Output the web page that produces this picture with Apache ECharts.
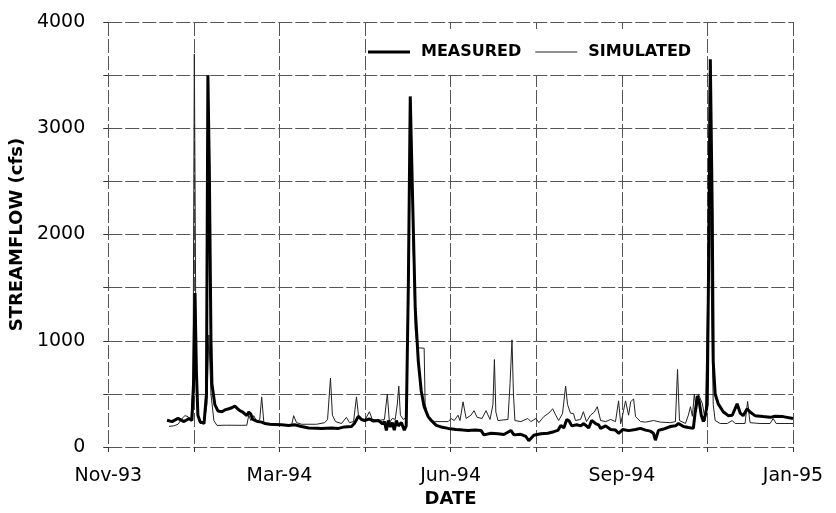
<!DOCTYPE html>
<html>
<head>
<meta charset="utf-8">
<title>Streamflow</title>
<script src="https://cdn.jsdelivr.net/npm/echarts@6/dist/echarts.min.js"></script>
<style>
  html, body { margin: 0; padding: 0; background: #fff; }
  #chart { width: 836px; height: 513px; }
</style>
</head>
<body>
<div id="chart"></div>
<script>
// x positions are days counted from 15 Nov 1993 (axis start), one grid step = 53 days
const xTickLabels = ['Nov-93', 'Mar-94', 'Jun-94', 'Sep-94', 'Jan-95'];
const yTickLabels = ['0', '1000', '2000', '3000', '4000'];

// measured streamflow (cfs)
const measDays = [36.4, 39.5, 43.2, 46.9, 50.0, 51.8, 52.8, 53.7, 54.6, 55.5, 56.8, 59.3, 60.8, 61.7, 62.6, 63.6,
  64.2, 66.0, 67.9, 70.4, 72.2, 74.7, 76.5, 78.4, 80.2, 81.5, 83.3, 85.8, 87.0, 88.3, 89.5, 90.7, 92.6, 95.0,
  96.9, 100.0, 103.1, 107.4, 111.7, 115.4, 119.7, 124.1, 129.0, 132.1, 138.2, 142.6, 146.3, 150.6, 152.4,
  154.9, 156.8, 158.8, 161.7, 164.2, 167.3, 169.8, 171.0, 172.2, 173.4, 174.7, 175.9, 177.1, 178.4, 179.6,
  181.5, 183.3, 184.5, 185.8, 187.0, 188.2, 190.1, 192.0, 193.8, 195.6, 198.1, 200.0, 203.1, 206.1, 210.5,
  215.4, 219.7, 222.8, 227.1, 230.8, 232.6, 237.0, 241.3, 245.0, 249.3, 251.2, 255.5, 258.6, 260.4, 263.5,
  267.9, 272.2, 275.9, 278.4, 280.2, 282.1, 283.9, 285.2, 287.0, 290.1, 292.6, 294.4, 297.5, 299.3, 301.8,
  303.6, 304.9, 308.0, 311.1, 314.1, 316.0, 318.5, 322.2, 326.5, 329.6, 332.7, 335.7, 337.6, 338.8, 340.7,
  343.8, 348.1, 351.2, 353.1, 356.2, 359.2, 362.3, 363.5, 364.8, 366.0, 367.2, 368.5, 369.7, 370.9, 371.8,
  372.8, 374.0, 374.6, 375.8, 377.7, 380.8, 383.9, 386.4, 389.4, 391.3, 393.1, 395.6, 397.4, 400.5, 405.5,
  409.8, 412.9, 417.8, 424.0];
const measFlow = [253, 240, 270, 240, 269, 250, 600, 1450, 700, 300, 240, 222, 500, 3500, 2600, 1000,
  593, 400, 340, 333, 350, 361, 370, 385, 360, 343, 330, 296, 330, 310, 260, 270, 240, 235,
  222, 215, 213, 210, 204, 210, 194, 180, 178, 176, 180, 176, 190, 194, 222,
  290, 260, 250, 265, 245, 250, 220, 240, 157, 250, 190, 230, 160, 250, 200,
  230, 160, 200, 1500, 3300, 2500, 1300, 805, 528, 380, 287, 250, 204, 190, 176,
  165, 160, 157, 160, 157, 115, 130, 125, 118, 157, 115, 120, 100, 60, 111,
  125, 130, 145, 157, 204, 180, 260, 250, 200, 210, 200, 222, 180, 250, 222,
  210, 176, 200, 165, 160, 130, 165, 155, 165, 176, 160, 150, 130, 65, 157,
  170, 194, 200, 222, 194, 185, 176, 340, 481, 420, 300, 240, 300, 400, 1800,
  3650, 2200, 805, 500, 407, 333, 296, 300, 407, 320, 296, 361, 330, 296, 287,
  280, 290, 287, 269];

// simulated streamflow (cfs)
const simDays = [37.6, 40.7, 43.2, 45.7, 47.5, 49.4, 51.2, 52.5, 53.3, 54.3, 55.5, 56.8, 59.3, 61.1, 62.3,
  63.6, 65.4, 67.3, 73.4, 82.7, 85.8, 87.0, 88.3, 90.1, 92.0, 93.8, 95.0, 96.3, 98.1, 107.4, 113.6, 114.8,
  116.6, 119.7, 129.0, 134.0, 135.8, 137.6, 138.8, 140.7, 144.4, 147.5, 149.4, 151.9, 153.7, 154.9, 156.8,
  158.8, 161.7, 163.5, 167.3, 171.0, 172.8, 174.1, 175.9, 177.7, 179.0, 179.9, 180.9, 182.7, 184.5, 185.8,
  187.3, 188.6, 190.1, 191.4, 195.6, 196.2, 198.1, 201.8, 206.1, 210.5, 212.3, 214.2, 216.6, 217.8, 219.7,
  221.6, 224.6, 226.5, 228.4, 231.5, 233.9, 236.4, 238.2, 239.1, 240.0, 241.3, 244.4, 247.5, 248.8, 250.0,
  250.9, 251.8, 255.5, 259.8, 261.7, 264.8, 266.6, 269.7, 272.8, 275.2, 277.1, 278.9, 281.3, 283.2, 284.4,
  286.2, 288.1, 289.3, 292.4, 294.2, 296.1, 298.6, 301.0, 302.8, 304.9, 308.0, 311.1, 314.1, 316.0, 317.3,
  318.5, 320.3, 322.2, 323.5, 325.3, 326.5, 329.6, 332.7, 337.6, 341.9, 348.1, 351.2, 352.5, 353.7, 357.4,
  359.2, 360.5, 361.7, 362.9, 364.2, 365.4, 367.9, 369.7, 371.3, 372.2, 373.4, 374.6, 375.8, 378.9, 383.3,
  386.4, 388.2, 394.3, 395.9, 397.4, 403.6, 409.8, 411.7, 413.6, 424.0];
const simFlow = [195, 200, 215, 269, 296, 287, 250, 600, 3700, 900, 300, 222, 225, 400, 1055,
  500, 250, 204, 206, 205, 206, 300, 250, 296, 240, 260, 472, 240, 215, 208, 210, 296,
  230, 215, 215, 230, 260, 650, 300, 240, 222, 280, 230, 240, 472, 300, 260,
  250, 333, 260, 250, 260, 500, 230, 270, 260, 407, 574, 300, 260, 280, 1800,
  3250, 2000, 1100, 935, 930, 407, 287, 240, 240, 240, 269, 250, 300, 250, 426,
  270, 300, 343, 280, 270, 343, 260, 400, 824, 330, 250, 255, 260, 600, 1009,
  500, 250, 240, 269, 240, 269, 230, 287, 320, 361, 300, 250, 315, 574, 400,
  320, 315, 250, 260, 333, 240, 300, 330, 380, 250, 240, 260, 240, 435, 220,
  300, 435, 300, 426, 454, 287, 240, 235, 250, 235, 230, 240, 731, 250, 222,
  300, 380, 290, 500, 330, 500, 407, 250, 1500, 3400, 1500, 400, 250, 222, 222,
  250, 222, 222, 430, 230, 222, 222, 269, 222, 222];

const measured = measDays.map((d, i) => [d, measFlow[i]]);
const simulated = simDays.map((d, i) => [d, simFlow[i]]);

const myChart = echarts.init(document.getElementById('chart'));

const gridLine = {
  show: true,
  lineStyle: { color: '#555', width: 1, type: [14, 3] }
};

const option = {
  backgroundColor: '#fff',
  animation: false,
  textStyle: { fontFamily: 'DejaVu Sans', color: '#000' },
  grid: { left: 106, right: 43, top: 22, bottom: 59 },
  legend: {
    left: 366,
    top: 29,
    padding: [15, 13, 15, 2],
    backgroundColor: '#fff',
    itemWidth: 42,
    itemHeight: 14,
    itemGap: 14,
    // plain line icons: thick for measured, thin for simulated
    data: [
      { name: 'MEASURED', icon: 'path://M0,0H42V3H0Z' },
      { name: 'SIMULATED', icon: 'path://M0,0H42V1H0Z' }
    ],
    textStyle: {
      fontFamily: 'DejaVu Sans',
      fontWeight: 'bold',
      fontSize: 16,
      color: '#000',
      padding: [0, 0, 0, 6]
    }
  },
  xAxis: {
    type: 'value',
    min: 0,
    max: 424,
    interval: 53,
    name: 'DATE',
    nameLocation: 'middle',
    nameGap: 40,
    nameTextStyle: { fontFamily: 'DejaVu Sans', fontWeight: 'bold', fontSize: 18, color: '#000' },
    axisLine: { show: false },
    axisTick: { show: true, length: 5, lineStyle: { color: '#333' } },
    axisLabel: {
      fontSize: 19,
      color: '#000',
      margin: 19,
      showMinLabel: true,
      showMaxLabel: true,
      // label only every second grid line
      formatter: function (v) {
        const k = Math.round(v / 53);
        return k % 2 === 0 ? xTickLabels[k / 2] : '';
      }
    },
    splitLine: gridLine
  },
  yAxis: {
    type: 'value',
    min: 0,
    max: 4000,
    interval: 500,
    name: 'STREAMFLOW (cfs)',
    nameLocation: 'middle',
    nameGap: 80,
    nameTextStyle: { fontFamily: 'DejaVu Sans', fontWeight: 'bold', fontSize: 18, color: '#000' },
    axisLine: { show: false },
    axisTick: { show: true, length: 5, lineStyle: { color: '#333' } },
    axisLabel: {
      fontSize: 19,
      color: '#000',
      margin: 23,
      formatter: function (v) {
        return v % 1000 === 0 ? yTickLabels[v / 1000] : '';
      }
    },
    splitLine: gridLine
  },
  series: [
    {
      name: 'SIMULATED',
      type: 'line',
      data: simulated,
      symbol: 'none',
      lineStyle: { color: '#222', width: 1 },
      itemStyle: { color: '#222' },
      z: 2
    },
    {
      name: 'MEASURED',
      type: 'line',
      data: measured,
      symbol: 'none',
      lineStyle: { color: '#000', width: 3 },
      itemStyle: { color: '#000' },
      z: 3
    }
  ]
};

myChart.setOption(option);
</script>
</body>
</html>
